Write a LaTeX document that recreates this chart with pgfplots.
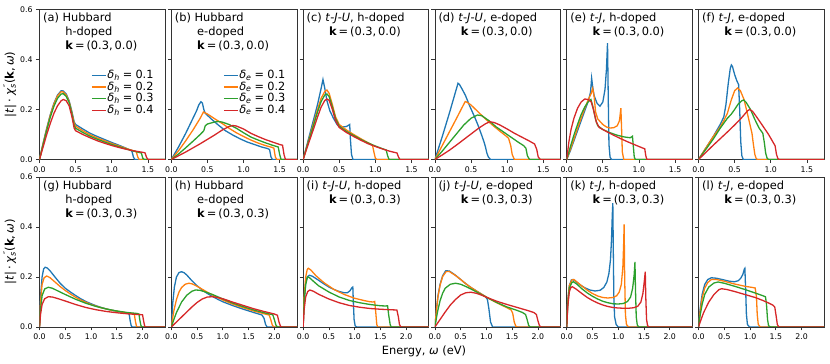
\documentclass[border=0pt]{standalone}
\usepackage{fontspec}
\setmainfont{DejaVu Sans}
\usepackage{pgfplots}
\pgfplotsset{compat=1.18}

\definecolor{c0}{HTML}{1F77B4}
\definecolor{c1}{HTML}{FF7F0E}
\definecolor{c2}{HTML}{2CA02C}
\definecolor{c3}{HTML}{D62728}

\pgfplotsset{
  panel/.style={
    scale only axis, width=125.7pt, height=150pt,
    xmin=0, ymin=0, ymax=0.6, ytick={0,0.2,0.4,0.6},
    tick align=outside, major tick length=3.5pt,
    xtick pos=left, ytick pos=left,
    axis line style={black!80, line width=0.7pt},
    every tick/.style={black!80, line width=0.7pt},
    tick label style={font=\fontsize{7.8}{8.5}\selectfont},
    /pgf/number format/assume math mode=true,
    xticklabel style={/pgf/number format/.cd, fixed, fixed zerofill, precision=1},
    yticklabel style={/pgf/number format/.cd, fixed, fixed zerofill, precision=1},
    every axis plot/.append style={line width=1.3pt, no markers},
    legend image code/.code={\draw[##1, line width=1.3pt] (0pt,0pt) -- (14pt,0pt);},
    legend style={draw=none, fill=none, anchor=north east, at={(0.915,0.6)},
      font=\fontsize{11.3}{11.3}\selectfont, inner sep=0pt, row sep=0pt,
      nodes={inner sep=0.8pt, text height=8pt, text depth=2pt}},
    legend cell align=left,
  },
  toprow/.style={panel, xmax=1.74, xtick={0,0.5,1,1.5}},
  botrow/.style={panel, xmax=2.44, xtick={0,0.5,1,1.5,2}},
  noylab/.style={yticklabels={}},
  ylab/.style={
    ylabel={|\textit{t}|\:·\:\textit{χ}\rlap{\textsuperscript{\,″}}\textsubscript{\textit{s}}(\textbf{k},\,\textit{ω})},
    ylabel style={at={(axis description cs:-0.235,0.5)}, anchor=center,
      font=\fontsize{11.6}{12}\selectfont}},
}

\newcommand{\ptitle}[1]{\node[anchor=north west, align=left, inner sep=0pt,
  xshift=3.4pt, yshift=-3.6pt, font=\fontsize{11.4}{13.8}\selectfont]
  at (rel axis cs:0,1) {#1};}
\newcommand{\kk}[1]{\hspace*{22.3pt}\textbf{k}\,=\,(0.3,\,#1)}
\newcommand{\dl}[2]{\textit{δ}\textsubscript{\textit{#1}}\;=\;#2}

\begin{document}
\begin{tikzpicture}
\path[use as bounding box] (0pt,0pt) rectangle (830pt,364pt);

% ---------- top row: k = (0.3, 0.0) ----------
\begin{axis}[toprow, ylab, at={(39.5pt,204.5pt)}]
\addplot[c0] coordinates {(0,0)(0.05,0.065)(0.1,0.125)(0.15,0.18)(0.2,0.225)(0.25,0.258)(0.3,0.275)(0.33,0.274)(0.37,0.262)(0.41,0.235)(0.45,0.19)(0.48,0.15)(0.5,0.14)(0.6,0.122)(0.7,0.105)(0.8,0.092)(0.9,0.08)(1.0,0.068)(1.1,0.057)(1.2,0.045)(1.26,0.037)(1.28,0.033)(1.3,0.01)(1.32,0)(1.74,0)};
\addplot[c1] coordinates {(0,0)(0.05,0.063)(0.1,0.122)(0.15,0.177)(0.2,0.222)(0.25,0.255)(0.3,0.271)(0.33,0.27)(0.37,0.258)(0.41,0.232)(0.45,0.185)(0.48,0.145)(0.5,0.133)(0.6,0.115)(0.7,0.099)(0.8,0.086)(0.9,0.075)(1.0,0.064)(1.1,0.054)(1.2,0.044)(1.3,0.035)(1.34,0.031)(1.36,0.01)(1.38,0)(1.74,0)};
\addplot[c2] coordinates {(0,0)(0.05,0.06)(0.1,0.117)(0.15,0.17)(0.2,0.213)(0.25,0.245)(0.3,0.262)(0.33,0.263)(0.37,0.252)(0.41,0.228)(0.45,0.18)(0.48,0.135)(0.5,0.125)(0.6,0.108)(0.7,0.093)(0.8,0.081)(0.9,0.07)(1.0,0.06)(1.1,0.051)(1.2,0.042)(1.3,0.034)(1.38,0.028)(1.41,0.026)(1.43,0.005)(1.45,0)(1.74,0)};
\addplot[c3] coordinates {(0,0)(0.05,0.05)(0.1,0.1)(0.15,0.145)(0.2,0.185)(0.25,0.215)(0.3,0.235)(0.33,0.24)(0.37,0.235)(0.41,0.215)(0.45,0.17)(0.48,0.125)(0.5,0.115)(0.6,0.1)(0.7,0.087)(0.8,0.075)(0.9,0.065)(1.0,0.056)(1.1,0.048)(1.2,0.041)(1.3,0.035)(1.4,0.03)(1.46,0.027)(1.48,0.01)(1.5,0)(1.74,0)};
\legend{\dl{h}{0.1},\dl{h}{0.2},\dl{h}{0.3},\dl{h}{0.4}}
\ptitle{(a) Hubbard\\\hspace*{22.3pt}h-doped\\\kk{0.0}}
\end{axis}

\begin{axis}[toprow, noylab, at={(171.3pt,204.5pt)}]
\addplot[c0] coordinates {(0,0)(0.1,0.05)(0.2,0.105)(0.3,0.165)(0.35,0.195)(0.38,0.218)(0.41,0.231)(0.43,0.226)(0.45,0.2)(0.47,0.185)(0.55,0.163)(0.65,0.138)(0.75,0.115)(0.85,0.098)(0.95,0.083)(1.05,0.07)(1.15,0.06)(1.25,0.05)(1.33,0.044)(1.36,0.04)(1.38,0.01)(1.4,0)(1.74,0)};
\addplot[c1] coordinates {(0,0)(0.1,0.035)(0.2,0.075)(0.3,0.118)(0.4,0.165)(0.445,0.19)(0.5,0.182)(0.6,0.163)(0.7,0.145)(0.8,0.125)(0.9,0.107)(1.0,0.092)(1.1,0.078)(1.2,0.066)(1.3,0.056)(1.4,0.048)(1.42,0.045)(1.44,0.01)(1.46,0)(1.74,0)};
\addplot[c2] coordinates {(0,0)(0.1,0.022)(0.2,0.047)(0.3,0.073)(0.4,0.1)(0.45,0.115)(0.47,0.135)(0.5,0.142)(0.55,0.146)(0.6,0.15)(0.65,0.152)(0.7,0.15)(0.8,0.14)(0.9,0.125)(1.0,0.107)(1.1,0.09)(1.2,0.078)(1.3,0.067)(1.4,0.057)(1.48,0.05)(1.5,0.02)(1.52,0)(1.74,0)};
\addplot[c3] coordinates {(0,0)(0.2,0.03)(0.4,0.063)(0.6,0.098)(0.7,0.117)(0.8,0.132)(0.85,0.136)(0.9,0.134)(1.0,0.122)(1.1,0.105)(1.2,0.092)(1.3,0.08)(1.4,0.07)(1.5,0.06)(1.54,0.057)(1.56,0.02)(1.58,0)(1.74,0)};
\legend{\dl{e}{0.1},\dl{e}{0.2},\dl{e}{0.3},\dl{e}{0.4}}
\ptitle{(b) Hubbard\\\hspace*{22.3pt}e-doped\\\kk{0.0}}
\end{axis}

\begin{axis}[toprow, noylab, at={(303.1pt,204.5pt)}]
\addplot[c0] coordinates {(0,0)(0.05,0.055)(0.1,0.11)(0.15,0.165)(0.2,0.22)(0.25,0.285)(0.275,0.32)(0.3,0.285)(0.33,0.235)(0.37,0.195)(0.42,0.165)(0.47,0.14)(0.5,0.132)(0.55,0.13)(0.6,0.132)(0.63,0.137)(0.645,0.14)(0.655,0.08)(0.67,0.02)(0.69,0)(1.74,0)};
\addplot[c1] coordinates {(0,0)(0.05,0.05)(0.1,0.1)(0.15,0.15)(0.2,0.2)(0.25,0.245)(0.3,0.272)(0.33,0.278)(0.36,0.265)(0.4,0.225)(0.45,0.17)(0.5,0.14)(0.6,0.118)(0.7,0.1)(0.8,0.083)(0.9,0.067)(0.96,0.058)(0.98,0.03)(1.0,0.005)(1.02,0)(1.74,0)};
\addplot[c2] coordinates {(0,0)(0.05,0.048)(0.1,0.095)(0.15,0.142)(0.2,0.19)(0.25,0.232)(0.3,0.258)(0.33,0.262)(0.36,0.252)(0.4,0.215)(0.45,0.163)(0.5,0.133)(0.6,0.112)(0.7,0.096)(0.8,0.08)(0.9,0.066)(1.0,0.054)(1.1,0.043)(1.15,0.038)(1.17,0.015)(1.19,0)(1.74,0)};
\addplot[c3] coordinates {(0,0)(0.05,0.043)(0.1,0.085)(0.15,0.127)(0.2,0.17)(0.25,0.21)(0.3,0.236)(0.33,0.242)(0.36,0.237)(0.4,0.205)(0.45,0.155)(0.5,0.128)(0.6,0.108)(0.7,0.092)(0.8,0.077)(0.9,0.063)(1.0,0.052)(1.1,0.042)(1.2,0.033)(1.3,0.026)(1.32,0.01)(1.34,0)(1.74,0)};
\ptitle{(c) \textit{t}-\textit{J}-\textit{U}, h-doped\\\kk{0.0}}
\end{axis}

\begin{axis}[toprow, noylab, at={(434.9pt,204.5pt)}]
\addplot[c0] coordinates {(0,0)(0.1,0.09)(0.2,0.185)(0.28,0.265)(0.32,0.305)(0.34,0.3)(0.37,0.285)(0.42,0.258)(0.48,0.215)(0.55,0.17)(0.6,0.135)(0.65,0.095)(0.68,0.07)(0.7,0.05)(0.72,0.025)(0.74,0.01)(0.77,0)(1.74,0)};
\addplot[c1] coordinates {(0,0)(0.1,0.055)(0.2,0.11)(0.3,0.165)(0.38,0.21)(0.42,0.232)(0.45,0.228)(0.5,0.218)(0.6,0.19)(0.7,0.162)(0.8,0.137)(0.9,0.113)(0.98,0.095)(1.02,0.085)(1.05,0.055)(1.07,0.02)(1.1,0)(1.74,0)};
\addplot[c2] coordinates {(0,0)(0.1,0.033)(0.2,0.068)(0.3,0.103)(0.4,0.138)(0.5,0.165)(0.59,0.178)(0.65,0.175)(0.75,0.155)(0.85,0.13)(0.95,0.11)(1.05,0.09)(1.15,0.07)(1.23,0.055)(1.26,0.045)(1.28,0.015)(1.31,0)(1.74,0)};
\addplot[c3] coordinates {(0,0)(0.1,0.018)(0.2,0.037)(0.3,0.058)(0.4,0.08)(0.5,0.102)(0.6,0.124)(0.7,0.143)(0.76,0.151)(0.82,0.148)(0.9,0.138)(1.0,0.122)(1.1,0.105)(1.2,0.09)(1.3,0.075)(1.38,0.062)(1.41,0.04)(1.43,0.01)(1.46,0)(1.74,0)};
\ptitle{(d) \textit{t}-\textit{J}-\textit{U}, e-doped\\\kk{0.0}}
\end{axis}

\begin{axis}[toprow, noylab, at={(566.7pt,204.5pt)}]
\addplot[c0] coordinates {(0,0)(0.05,0.035)(0.1,0.075)(0.15,0.115)(0.2,0.155)(0.25,0.195)(0.3,0.235)(0.33,0.27)(0.345,0.325)(0.36,0.29)(0.38,0.255)(0.42,0.225)(0.46,0.213)(0.5,0.23)(0.53,0.28)(0.55,0.36)(0.565,0.465)(0.575,0.25)(0.585,0.06)(0.6,0.01)(0.62,0)(1.74,0)};
\addplot[c1] coordinates {(0,0)(0.05,0.04)(0.1,0.082)(0.15,0.125)(0.2,0.165)(0.25,0.205)(0.3,0.24)(0.34,0.265)(0.36,0.285)(0.38,0.25)(0.4,0.19)(0.43,0.162)(0.5,0.14)(0.55,0.13)(0.6,0.126)(0.65,0.127)(0.7,0.135)(0.73,0.155)(0.75,0.205)(0.76,0.12)(0.77,0.03)(0.79,0)(1.74,0)};
\addplot[c2] coordinates {(0,0)(0.05,0.05)(0.1,0.098)(0.15,0.14)(0.2,0.18)(0.25,0.21)(0.3,0.232)(0.335,0.24)(0.36,0.215)(0.4,0.16)(0.43,0.135)(0.5,0.12)(0.6,0.107)(0.7,0.097)(0.8,0.09)(0.88,0.087)(0.91,0.093)(0.92,0.06)(0.935,0.01)(0.95,0)(1.74,0)};
\addplot[c3] coordinates {(0,0)(0.03,0.07)(0.06,0.12)(0.1,0.165)(0.15,0.205)(0.2,0.23)(0.25,0.242)(0.3,0.24)(0.34,0.23)(0.37,0.2)(0.41,0.15)(0.45,0.128)(0.55,0.112)(0.65,0.097)(0.75,0.083)(0.85,0.07)(0.95,0.058)(1.05,0.046)(1.08,0.043)(1.095,0.015)(1.11,0)(1.74,0)};
\ptitle{(e) \textit{t}-\textit{J}, h-doped\\\kk{0.0}}
\end{axis}

\begin{axis}[toprow, noylab, at={(698.5pt,204.5pt)}]
\addplot[c0] coordinates {(0,0)(0.1,0.045)(0.2,0.09)(0.3,0.14)(0.35,0.17)(0.38,0.22)(0.41,0.3)(0.44,0.365)(0.455,0.378)(0.47,0.372)(0.5,0.34)(0.53,0.315)(0.555,0.3)(0.57,0.2)(0.585,0.07)(0.6,0.015)(0.62,0)(1.74,0)};
\addplot[c1] coordinates {(0,0)(0.1,0.045)(0.2,0.09)(0.3,0.13)(0.35,0.155)(0.4,0.185)(0.45,0.235)(0.5,0.275)(0.54,0.286)(0.58,0.275)(0.63,0.24)(0.68,0.18)(0.72,0.13)(0.74,0.105)(0.76,0.06)(0.78,0.02)(0.8,0.003)(0.82,0)(1.74,0)};
\addplot[c2] coordinates {(0,0)(0.1,0.04)(0.2,0.08)(0.3,0.125)(0.35,0.145)(0.4,0.165)(0.45,0.18)(0.5,0.2)(0.55,0.222)(0.6,0.235)(0.625,0.238)(0.66,0.228)(0.72,0.2)(0.78,0.16)(0.84,0.125)(0.89,0.105)(0.91,0.07)(0.93,0.025)(0.95,0.005)(0.97,0)(1.74,0)};
\addplot[c3] coordinates {(0,0)(0.1,0.028)(0.2,0.056)(0.3,0.083)(0.4,0.11)(0.5,0.138)(0.6,0.168)(0.68,0.195)(0.71,0.2)(0.75,0.192)(0.8,0.172)(0.9,0.13)(0.97,0.1)(1.02,0.075)(1.06,0.055)(1.08,0.02)(1.1,0.003)(1.12,0)(1.74,0)};
\ptitle{(f) \textit{t}-\textit{J}, e-doped\\\kk{0.0}}
\end{axis}

% ---------- bottom row: k = (0.3, 0.3) ----------
\begin{axis}[botrow, ylab, at={(39.5pt,37pt)}]
\addplot[c0] coordinates {(0,0)(0.02,0.12)(0.05,0.2)(0.08,0.232)(0.11,0.239)(0.15,0.236)(0.2,0.226)(0.3,0.2)(0.4,0.175)(0.5,0.155)(0.6,0.14)(0.7,0.126)(0.8,0.113)(0.9,0.102)(1.0,0.093)(1.1,0.085)(1.2,0.078)(1.3,0.072)(1.4,0.067)(1.5,0.063)(1.6,0.059)(1.7,0.055)(1.74,0.052)(1.76,0.025)(1.78,0.005)(1.8,0)(2.44,0)};
\addplot[c1] coordinates {(0,0)(0.02,0.1)(0.05,0.17)(0.09,0.197)(0.14,0.204)(0.2,0.198)(0.3,0.18)(0.4,0.162)(0.5,0.146)(0.6,0.132)(0.7,0.119)(0.8,0.108)(0.9,0.099)(1.0,0.09)(1.2,0.077)(1.4,0.067)(1.6,0.06)(1.8,0.054)(1.84,0.052)(1.86,0.025)(1.88,0.005)(1.9,0)(2.44,0)};
\addplot[c2] coordinates {(0,0)(0.02,0.07)(0.05,0.125)(0.1,0.152)(0.17,0.159)(0.25,0.155)(0.35,0.145)(0.5,0.13)(0.7,0.111)(0.9,0.095)(1.1,0.082)(1.3,0.072)(1.5,0.064)(1.7,0.058)(1.9,0.054)(1.93,0.052)(1.95,0.025)(1.97,0.005)(1.99,0)(2.44,0)};
\addplot[c3] coordinates {(0,0)(0.02,0.05)(0.05,0.09)(0.1,0.113)(0.17,0.121)(0.25,0.12)(0.35,0.114)(0.5,0.104)(0.7,0.09)(0.9,0.078)(1.1,0.069)(1.3,0.062)(1.5,0.057)(1.7,0.053)(1.9,0.05)(2.0,0.049)(2.02,0.025)(2.04,0.005)(2.06,0)(2.44,0)};
\ptitle{(g) Hubbard\\\hspace*{22.3pt}h-doped\\\kk{0.3}}
\end{axis}

\begin{axis}[botrow, noylab, at={(171.3pt,37pt)}]
\addplot[c0] coordinates {(0,0)(0.03,0.1)(0.06,0.16)(0.1,0.2)(0.15,0.218)(0.2,0.221)(0.25,0.217)(0.3,0.208)(0.4,0.185)(0.5,0.165)(0.6,0.148)(0.7,0.134)(0.8,0.122)(0.9,0.111)(1.0,0.101)(1.2,0.085)(1.4,0.071)(1.6,0.058)(1.76,0.048)(1.8,0.035)(1.83,0.01)(1.86,0)(2.44,0)};
\addplot[c1] coordinates {(0,0)(0.05,0.065)(0.1,0.11)(0.15,0.14)(0.2,0.158)(0.27,0.171)(0.34,0.175)(0.4,0.173)(0.5,0.163)(0.6,0.151)(0.7,0.139)(0.8,0.128)(1.0,0.108)(1.2,0.091)(1.4,0.077)(1.6,0.064)(1.8,0.053)(1.9,0.048)(1.93,0.03)(1.96,0.008)(1.99,0)(2.44,0)};
\addplot[c2] coordinates {(0,0)(0.05,0.03)(0.1,0.058)(0.2,0.1)(0.3,0.127)(0.4,0.143)(0.47,0.148)(0.55,0.147)(0.65,0.141)(0.8,0.13)(1.0,0.112)(1.2,0.095)(1.4,0.081)(1.6,0.068)(1.8,0.057)(1.97,0.049)(2.0,0.03)(2.03,0.008)(2.06,0)(2.44,0)};
\addplot[c3] coordinates {(0,0)(0.1,0.02)(0.2,0.04)(0.3,0.06)(0.4,0.08)(0.5,0.098)(0.6,0.112)(0.7,0.12)(0.8,0.121)(0.9,0.118)(1.0,0.113)(1.2,0.099)(1.4,0.086)(1.6,0.073)(1.8,0.062)(2.0,0.052)(2.06,0.047)(2.09,0.02)(2.12,0.003)(2.14,0)(2.44,0)};
\ptitle{(h) Hubbard\\\hspace*{22.3pt}e-doped\\\kk{0.3}}
\end{axis}

\begin{axis}[botrow, noylab, at={(303.1pt,37pt)}]
\addplot[c0] coordinates {(0,0)(0.02,0.1)(0.05,0.175)(0.08,0.2)(0.12,0.207)(0.18,0.203)(0.3,0.187)(0.4,0.173)(0.5,0.16)(0.6,0.15)(0.7,0.142)(0.8,0.137)(0.86,0.137)(0.91,0.145)(0.95,0.158)(0.965,0.16)(0.975,0.1)(0.99,0.03)(1.01,0.005)(1.04,0)(2.44,0)};
\addplot[c1] coordinates {(0,0)(0.02,0.12)(0.05,0.2)(0.08,0.23)(0.1,0.235)(0.15,0.228)(0.25,0.205)(0.4,0.178)(0.6,0.15)(0.8,0.13)(1.0,0.115)(1.2,0.105)(1.3,0.101)(1.36,0.1)(1.39,0.102)(1.41,0.06)(1.43,0.01)(1.45,0)(2.44,0)};
\addplot[c2] coordinates {(0,0)(0.02,0.1)(0.05,0.17)(0.085,0.2)(0.12,0.198)(0.2,0.183)(0.3,0.165)(0.5,0.14)(0.7,0.12)(0.9,0.106)(1.1,0.097)(1.3,0.09)(1.5,0.085)(1.6,0.084)(1.64,0.085)(1.66,0.05)(1.69,0.01)(1.71,0)(2.44,0)};
\addplot[c3] coordinates {(0,0)(0.02,0.07)(0.05,0.12)(0.09,0.142)(0.13,0.148)(0.2,0.143)(0.3,0.131)(0.5,0.112)(0.7,0.097)(0.9,0.086)(1.1,0.079)(1.3,0.074)(1.5,0.071)(1.7,0.069)(1.82,0.068)(1.85,0.04)(1.87,0.01)(1.9,0)(2.44,0)};
\ptitle{(i) \textit{t}-\textit{J}-\textit{U}, h-doped\\\kk{0.3}}
\end{axis}

\begin{axis}[botrow, noylab, at={(434.9pt,37pt)}]
\addplot[c0] coordinates {(0,0)(0.03,0.07)(0.06,0.125)(0.1,0.17)(0.15,0.205)(0.21,0.225)(0.28,0.224)(0.4,0.207)(0.5,0.19)(0.6,0.173)(0.7,0.158)(0.8,0.145)(0.9,0.132)(0.98,0.122)(1.02,0.11)(1.05,0.07)(1.08,0.02)(1.12,0)(2.44,0)};
\addplot[c1] coordinates {(0,0)(0.03,0.068)(0.06,0.122)(0.1,0.167)(0.15,0.202)(0.22,0.222)(0.28,0.222)(0.4,0.206)(0.5,0.19)(0.6,0.173)(0.7,0.158)(0.8,0.145)(0.9,0.132)(1.0,0.12)(1.1,0.108)(1.2,0.097)(1.3,0.087)(1.4,0.077)(1.48,0.068)(1.51,0.055)(1.54,0.02)(1.57,0.003)(1.6,0)(2.44,0)};
\addplot[c2] coordinates {(0,0)(0.05,0.06)(0.1,0.105)(0.15,0.135)(0.2,0.155)(0.3,0.171)(0.4,0.175)(0.5,0.171)(0.6,0.162)(0.7,0.152)(0.8,0.141)(0.9,0.13)(1.0,0.119)(1.2,0.098)(1.4,0.08)(1.6,0.066)(1.7,0.058)(1.76,0.05)(1.79,0.03)(1.82,0.006)(1.85,0)(2.44,0)};
\addplot[c3] coordinates {(0,0)(0.1,0.03)(0.2,0.06)(0.3,0.088)(0.4,0.11)(0.5,0.128)(0.6,0.137)(0.7,0.139)(0.8,0.135)(0.9,0.128)(1.0,0.119)(1.2,0.103)(1.4,0.09)(1.6,0.078)(1.8,0.066)(1.92,0.058)(1.97,0.05)(2.0,0.025)(2.03,0.005)(2.06,0)(2.44,0)};
\ptitle{(j) \textit{t}-\textit{J}-\textit{U}, e-doped\\\kk{0.3}}
\end{axis}

\begin{axis}[botrow, noylab, at={(566.7pt,37pt)}]
\addplot[c0] coordinates {(0,0)(0.02,0.1)(0.05,0.165)(0.09,0.188)(0.12,0.19)(0.18,0.182)(0.25,0.17)(0.35,0.157)(0.45,0.148)(0.55,0.144)(0.65,0.147)(0.72,0.158)(0.78,0.18)(0.82,0.215)(0.85,0.27)(0.87,0.35)(0.885,0.45)(0.895,0.495)(0.905,0.3)(0.915,0.12)(0.93,0.04)(0.96,0.01)(1.0,0)(2.44,0)};
\addplot[c1] coordinates {(0,0)(0.02,0.1)(0.05,0.165)(0.1,0.188)(0.14,0.19)(0.2,0.18)(0.3,0.163)(0.4,0.147)(0.5,0.134)(0.6,0.124)(0.7,0.118)(0.8,0.116)(0.9,0.118)(0.97,0.125)(1.02,0.14)(1.06,0.17)(1.09,0.24)(1.105,0.33)(1.115,0.41)(1.125,0.2)(1.14,0.05)(1.16,0.01)(1.2,0)(2.44,0)};
\addplot[c2] coordinates {(0,0)(0.02,0.09)(0.05,0.155)(0.1,0.178)(0.13,0.181)(0.2,0.171)(0.3,0.152)(0.4,0.136)(0.5,0.123)(0.6,0.112)(0.7,0.103)(0.8,0.097)(0.9,0.093)(1.0,0.092)(1.1,0.094)(1.18,0.102)(1.24,0.12)(1.28,0.155)(1.31,0.21)(1.325,0.26)(1.335,0.15)(1.35,0.04)(1.37,0.008)(1.4,0)(2.44,0)};
\addplot[c3] coordinates {(0,0)(0.02,0.08)(0.05,0.14)(0.08,0.158)(0.11,0.161)(0.18,0.152)(0.3,0.133)(0.4,0.118)(0.5,0.106)(0.6,0.096)(0.7,0.088)(0.8,0.082)(0.9,0.078)(1.0,0.076)(1.1,0.075)(1.2,0.075)(1.3,0.077)(1.38,0.083)(1.44,0.1)(1.48,0.135)(1.51,0.19)(1.525,0.221)(1.535,0.12)(1.55,0.03)(1.57,0.005)(1.6,0)(2.44,0)};
\ptitle{(k) \textit{t}-\textit{J}, h-doped\\\kk{0.3}}
\end{axis}

\begin{axis}[botrow, noylab, at={(698.5pt,37pt)}]
\addplot[c0] coordinates {(0,0)(0.03,0.07)(0.07,0.13)(0.12,0.17)(0.18,0.19)(0.25,0.197)(0.35,0.195)(0.5,0.188)(0.6,0.183)(0.7,0.181)(0.77,0.185)(0.82,0.195)(0.86,0.21)(0.89,0.232)(0.9,0.235)(0.915,0.15)(0.93,0.05)(0.95,0.01)(0.99,0)(2.44,0)};
\addplot[c1] coordinates {(0,0)(0.03,0.06)(0.07,0.115)(0.12,0.155)(0.18,0.178)(0.25,0.19)(0.35,0.19)(0.5,0.183)(0.7,0.172)(0.9,0.163)(1.05,0.158)(1.1,0.156)(1.125,0.12)(1.14,0.05)(1.16,0.01)(1.2,0)(2.44,0)};
\addplot[c2] coordinates {(0,0)(0.03,0.045)(0.07,0.09)(0.12,0.13)(0.2,0.16)(0.3,0.176)(0.38,0.18)(0.5,0.175)(0.7,0.163)(0.9,0.15)(1.1,0.136)(1.25,0.125)(1.3,0.121)(1.32,0.09)(1.34,0.03)(1.36,0.005)(1.4,0)(2.44,0)};
\addplot[c3] coordinates {(0,0)(0.05,0.03)(0.1,0.058)(0.2,0.1)(0.3,0.13)(0.4,0.15)(0.45,0.153)(0.55,0.15)(0.7,0.142)(0.9,0.13)(1.1,0.118)(1.25,0.106)(1.35,0.097)(1.44,0.088)(1.48,0.08)(1.51,0.04)(1.53,0.01)(1.56,0)(2.44,0)};
\ptitle{(l) \textit{t}-\textit{J}, e-doped\\\kk{0.3}}
\end{axis}

\node[font=\fontsize{11.4}{13}\selectfont] at (424pt,12.3pt) {Energy, \textit{ω} (eV)};
\end{tikzpicture}
\end{document}
